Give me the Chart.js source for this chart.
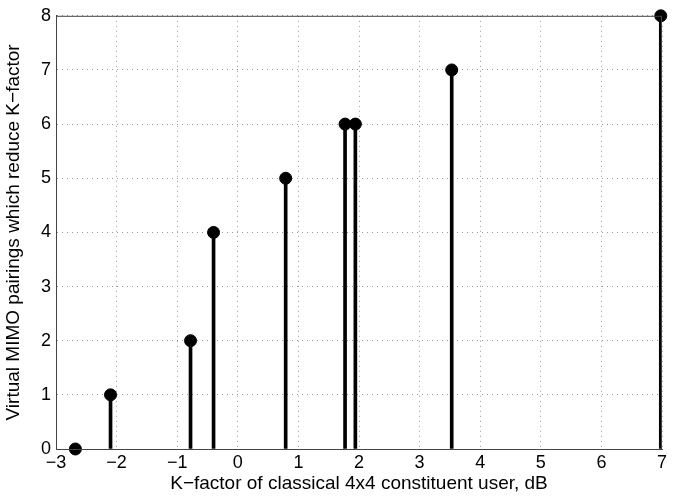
<!DOCTYPE html>
<html>
<head>
<meta charset="utf-8">
<script src="https://cdn.jsdelivr.net/npm/chart.js@4"></script>
<style>
  html, body { margin: 0; padding: 0; background: #fff; }
  #wrap { width: 678px; height: 497px; }
</style>
</head>
<body>
<div id="wrap"><canvas id="stemChart"></canvas></div>
<script>
// K-factor of each constituent user (dB) and pairings count
var kFactorDb = [-2.68, -2.10, -0.78, -0.40, 0.79, 1.77, 1.94, 3.53, 6.98];
var pairings = [0, 1, 2, 4, 5, 6, 6, 7, 8];
var xTicks = [-3, -2, -1, 0, 1, 2, 3, 4, 5, 6, 7];
var yTicks = [0, 1, 2, 3, 4, 5, 6, 7, 8];

var points = kFactorDb.map(function (x, i) { return { x: x, y: pairings[i] }; });

var frame = {
    id: 'frame',
    afterDraw: function (chart) {
        var a = chart.chartArea, ctx = chart.ctx;
        ctx.save();
        ctx.strokeStyle = '#444';
        ctx.lineWidth = 1;
        ctx.strokeRect(a.left + 0.5, a.top + 0.5, a.right - a.left - 1, a.bottom - a.top);
        ctx.restore();
    }
};

function minus(v) { return String(v).replace('-', '\u2212'); }

Chart.defaults.font.family = '"Liberation Sans", Arial, Helvetica, sans-serif';
Chart.defaults.color = '#000';

new Chart(document.getElementById('stemChart').getContext('2d'), {
    type: 'scatter',
    data: {
        datasets: [{
            type: 'scatter',
            data: points,
            pointRadius: 6,
            pointBackgroundColor: '#000',
            pointBorderColor: '#000',
            clip: false,
            order: 0
        }, {
            type: 'bar',
            data: points,
            backgroundColor: '#000',
            barThickness: 3,
            order: 1
        }]
    },
    options: {
        responsive: true,
        maintainAspectRatio: false,
        animation: false,
        layout: { padding: { top: 9, right: 16, left: 0, bottom: 0 } },
        plugins: { legend: { display: false }, tooltip: { enabled: false } },
        scales: {
            x: {
                type: 'linear',
                offset: false,
                min: -3, max: 7,
                afterBuildTicks: function (s) { s.ticks = xTicks.map(function (v) { return { value: v }; }); },
                afterFit: function (s) { s.height = 48; },
                ticks: { callback: minus, font: { size: 18 }, padding: 3, maxRotation: 0 },
                grid: { color: '#999', drawTicks: false, offset: false },
                border: { color: '#444', dash: [1, 4] },
                title: { display: true, text: 'K\u2212factor of classical 4x4 constituent user, dB', font: { size: 19 }, padding: { top: 0, bottom: 2 } }
            },
            y: {
                min: 0, max: 8,
                afterBuildTicks: function (s) { s.ticks = yTicks.map(function (v) { return { value: v }; }); },
                afterFit: function (s) { s.width = 56; },
                ticks: { font: { size: 18 }, padding: 5 },
                grid: { color: '#999', drawTicks: false },
                border: { color: '#444', dash: [1, 4] },
                title: { display: true, text: 'Virtual MIMO pairings which reduce K\u2212factor', font: { size: 19 }, padding: { top: 2, bottom: 0 } }
            }
        }
    },
    plugins: [frame]
});
</script>
</body>
</html>
